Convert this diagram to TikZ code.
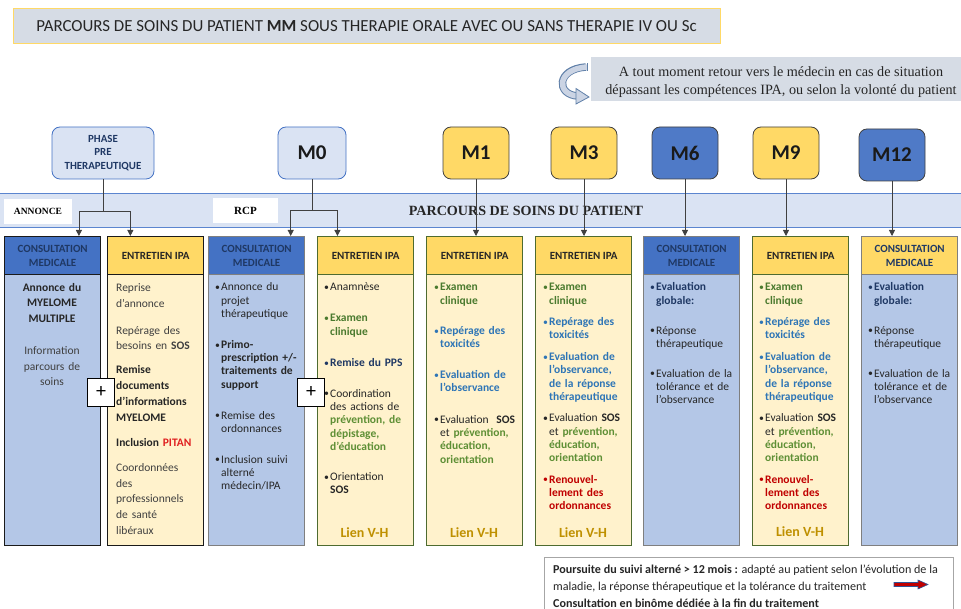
\documentclass[tikz,border=0pt]{standalone}
\usepackage{fontspec}
\usepackage{graphicx}
\setmainfont{Carlito}
\newfontfamily\tnr{Liberation Serif}
\usetikzlibrary{calc,arrows.meta}
\definecolor{titlefill}{HTML}{D6DCE5}
\definecolor{titleborder}{HTML}{FFD966}
\definecolor{bandfill}{HTML}{DAE3F3}
\definecolor{bandline}{HTML}{5B85CF}
\definecolor{stagelight}{HTML}{DAE3F3}
\definecolor{stageblue}{HTML}{4F7AC7}
\definecolor{stageyellow}{HTML}{FFD966}
\definecolor{consbody}{HTML}{B4C7E7}
\definecolor{conshead}{HTML}{4472C4}
\definecolor{ipahead}{HTML}{FFD966}
\definecolor{ipabody}{HTML}{FFF2CC}
\definecolor{colgreen}{HTML}{4E6B30}
\definecolor{colgray}{HTML}{7F7F7F}
\definecolor{colblack}{HTML}{1A1A1A}
\definecolor{connc}{HTML}{404040}
\definecolor{navy}{HTML}{1F3864}
\definecolor{dark}{HTML}{262626}
\definecolor{gray4}{HTML}{404040}
\definecolor{exgreen}{HTML}{4A7A2E}
\definecolor{prevgreen}{HTML}{5E8F35}
\definecolor{tblue}{HTML}{2E75B6}
\definecolor{tred}{HTML}{C00000}
\definecolor{pitan}{HTML}{E02020}
\definecolor{gold}{HTML}{BF9000}
\definecolor{arrowfill}{HTML}{CBD4E4}
\definecolor{arrowline}{HTML}{5F7FA8}
\definecolor{boxgray}{HTML}{A6A6A6}
\definecolor{redarrow}{HTML}{C00000}
\definecolor{redarrowline}{HTML}{2F5597}
\newcommand\bul{\raisebox{0.3pt}{\scalebox{0.85}{•}}}
\newcommand\itm[1]{\par\hangindent=6pt\hangafter=1\noindent\makebox[6pt][l]{\bul}{#1}\par}
\begin{document}
\begin{tikzpicture}[x=1pt,y=-1pt,
  stage/.style={rounded corners=8pt, minimum height=52pt, inner sep=0pt, line width=0.8pt,
    font=\bfseries\fontsize{21}{24}\selectfont, text=colblack},
  colbody/.style={anchor=north west, minimum width=96pt, minimum height=309pt, line width=1.3pt, inner sep=0pt},
  colhead/.style={anchor=north west, minimum width=96pt, minimum height=38pt, line width=1.3pt, inner sep=0pt,
    align=center, font=\bfseries\fontsize{11}{13.8}\selectfont},
  coltext/.style={anchor=north west, inner sep=0pt, text width=95pt, align=left, text=dark},
  tight/.style={font=\fontsize{11.5}{13.3}\selectfont},
  loose/.style={font=\fontsize{11.5}{15.7}\selectfont},
  lien/.style={font=\bfseries\fontsize{14}{16}\selectfont, text=gold, inner sep=0pt},
  conn/.style={draw=connc, line width=0.8pt},
  arr/.style={conn, -{Triangle[length=6pt,width=6pt]}},
  plusbox/.style={draw=black, fill=white, minimum width=27pt, minimum height=28pt, inner sep=0pt,
    line width=0.8pt, font=\fontsize{20}{20}\selectfont},
  tag/.style={fill=white, minimum height=25pt, inner sep=0pt, font=\tnr\bfseries\fontsize{9.5}{11}\selectfont}
]
\useasboundingbox (0,0) rectangle (961,609);

% title
\node[draw=titleborder, fill=titlefill, line width=1pt, minimum width=707pt, minimum height=35pt,
  font=\fontsize{16.9}{19}\selectfont, text=dark] (title) at (366.5,26.5)
  {PARCOURS DE SOINS DU PATIENT \textbf{MM} SOUS THERAPIE ORALE AVEC OU SANS THERAPIE IV OU Sc};

% note
\node[fill=titlefill, minimum width=380pt, minimum height=44pt, inner sep=0pt] (notebox) at (781,79) {};
\node[align=center, font=\tnr\fontsize{14.2}{18}\selectfont, text=dark] (note) at (781,82)
  {A tout moment retour vers le médecin en cas de situation\\dépassant les compétences IPA, ou selon la volonté du patient};
\draw[line width=7.5pt, arrowline] (586,67) .. controls (556,69) and (556,95) .. (578,96);
\draw[line width=5.5pt, arrowfill] (587,67) .. controls (556,69) and (556,95) .. (578,96);
\filldraw[fill=arrowfill, draw=arrowline, line width=0.8pt] (576,88.5) -- (589,97) -- (576,104) -- cycle;
\draw[arrowline, line width=0.8pt] (587,63.3) -- (587,70.7);

% band
\node[fill=bandfill, draw=bandline, line width=1pt, minimum width=970pt, minimum height=34pt] (band) at (480.5,211) {};
\node[font=\tnr\bfseries\fontsize{14.1}{16}\selectfont, text=dark] (bandtext) at (526,211) {PARCOURS DE SOINS DU PATIENT};
\node[tag, minimum width=68pt] (annonce) at (38,211.5) {ANNONCE};
\node[tag, minimum width=65pt, font=\tnr\bfseries\fontsize{11}{12}\selectfont] (rcp) at (245.5,210.5) {RCP};

% stages
\node[stage, fill=stagelight, draw=conshead, minimum width=102pt, align=center,
  font=\bfseries\fontsize{10.9}{13.5}\selectfont, text=navy] (ph) at (103,153) {PHASE\\PRE\\THERAPEUTIQUE};
\node[stage, fill=stagelight, draw=conshead, minimum width=68pt] (m0) at (312,153) {M0};
\node[stage, fill=stageyellow, draw=gray4, minimum width=66pt] (m1) at (476,153) {M1};
\node[stage, fill=stageyellow, draw=gray4, minimum width=66pt] (m3) at (584,153) {M3};
\node[stage, fill=stageblue, draw=gray4, minimum width=66pt] (m6) at (685,153) {M6};
\node[stage, fill=stageyellow, draw=gray4, minimum width=66pt] (m9) at (786,153) {M9};
\node[stage, fill=stageblue, draw=gray4, minimum width=66pt] (m12) at (892,155) {M12};

% columns
\node[colbody, fill=consbody, draw=colblack] (c1) at (4,236) {};
\node[colhead, fill=conshead, draw=colblack, text=navy] (c1h) at (4,236) {CONSULTATION\\MEDICALE};
\node[colbody, fill=ipabody, draw=colblack] (c2) at (107,236) {};
\node[colhead, fill=ipahead, draw=colblack, text=dark] (c2h) at (107,236) {ENTRETIEN IPA};
\node[colbody, fill=consbody, draw=colgray] (c3) at (208,236) {};
\node[colhead, fill=conshead, draw=colgray, text=navy] (c3h) at (208,236) {CONSULTATION\\MEDICALE};
\node[colbody, fill=ipabody, draw=colgreen] (c4) at (317,236) {};
\node[colhead, fill=ipahead, draw=colgreen, text=dark] (c4h) at (317,236) {ENTRETIEN IPA};
\node[colbody, fill=ipabody, draw=colgreen] (c5) at (426,236) {};
\node[colhead, fill=ipahead, draw=colgreen, text=dark] (c5h) at (426,236) {ENTRETIEN IPA};
\node[colbody, fill=ipabody, draw=colgreen] (c6) at (535,236) {};
\node[colhead, fill=ipahead, draw=colgreen, text=dark] (c6h) at (535,236) {ENTRETIEN IPA};
\node[colbody, fill=consbody, draw=colgray] (c7) at (643,236) {};
\node[colhead, fill=conshead, draw=colgray, text=navy] (c7h) at (643,236) {CONSULTATION\\MEDICALE};
\node[colbody, fill=ipabody, draw=colgreen] (c8) at (752,236) {};
\node[colhead, fill=ipahead, draw=colgreen, text=dark] (c8h) at (752,236) {ENTRETIEN IPA};
\node[colbody, fill=consbody, draw=colgray] (c9) at (861,236) {};
\node[colhead, fill=ipahead, draw=colgray, text=navy] (c9h) at (861,236) {CONSULTATION\\MEDICALE};

% connectors
\coordinate (j1) at (103,211);
\coordinate (j2) at (312,210);
\draw[conn] (ph.south) -- (j1);
\draw[arr] (j1) -| ($(c1h.north west)!0.77!(c1h.north east)$);
\draw[arr] (j1) -| ($(c2h.north west)!0.24!(c2h.north east)$);
\draw[conn] (m0.south) -- (j2);
\draw[arr] (j2) -| ($(c3h.north west)!0.85!(c3h.north east)$);
\draw[arr] (j2) -| ($(c4h.north west)!0.21!(c4h.north east)$);
\draw[arr] (m1.south) -- (m1.south |- c5h.north);
\draw[arr] (m3.south) -- (m3.south |- c6h.north);
\draw[arr] (m6.south) -- (m6.south |- c7h.north);
\draw[arr] (m9.south) -- (m9.south |- c8h.north);
\draw[arr] (m12.south) -- (m12.south |- c9h.north);

% column texts
\node[coltext, loose, anchor=north, align=center, text width=92pt] (t1) at (52,283)
  {{\bfseries\color{dark}Annonce du\\MYELOME\\MULTIPLE\par}\vspace{16pt}{\color{gray4}Information\\parcours de\\soins\par}};
\node[coltext, loose] (t2) at (116,283.5)
  {\color{gray4}Reprise\newline d’annonce\par\vspace{11pt}
   Repérage des\newline besoins en \textbf{SOS}\par\vspace{8.5pt}
   {\bfseries\color{dark}Remise\newline documents\newline d’informations\newline MYELOME\par}\vspace{10pt}
   {\bfseries\color{dark}Inclusion \textcolor{pitan}{PITAN}\par}\vspace{9pt}
   Coordonnées\newline des\newline professionnels\newline de santé\newline libéraux\par};
\node[coltext, tight] (t3) at (215,277.5)
  {\itm{Annonce du\newline projet\newline thérapeutique}\vspace{17.5pt}
   \itm{\bfseries Primo-\newline prescription +/-\newline traitements de\newline support}\vspace{17.5pt}
   \itm{Remise des\newline ordonnances}\vspace{17.5pt}
   \itm{Inclusion suivi\newline alterné\newline médecin/IPA}};
\node[coltext, tight] (t4) at (324,277.5)
  {\itm{Anamnèse}\vspace{17.5pt}
   {\color{exgreen}\itm{\bfseries Examen\newline clinique}}\vspace{18pt}
   {\color{navy}\itm{\bfseries Remise du PPS}}\vspace{17.5pt}
   \itm{Coordination\newline des actions de\newline \textcolor{prevgreen}{\bfseries prévention, de\newline dépistage,\newline d’éducation}}\vspace{17pt}
   \itm{Orientation\newline \textbf{SOS}}};
\node[coltext, tight] (t5) at (434,277.5)
  {{\color{exgreen}\itm{\bfseries Examen\newline clinique}}\vspace{17pt}
   {\color{tblue}\itm{\bfseries Repérage des\newline toxicités}}\vspace{17.5pt}
   {\color{tblue}\itm{\bfseries Evaluation de\newline l'observance}}\vspace{18pt}
   \itm{Evaluation\ \ \textbf{SOS}\newline et \textcolor{prevgreen}{\bfseries prévention,\newline éducation,\newline orientation}}};
\node[coltext, tight] (t6) at (543,277.5)
  {{\color{exgreen}\itm{\bfseries Examen\newline clinique}}\vspace{8pt}
   {\color{tblue}\itm{\bfseries Repérage des\newline toxicités}}\vspace{8.5pt}
   {\color{tblue}\itm{\bfseries Evaluation de\newline l'observance,\newline de la réponse\newline thérapeutique}}\vspace{8pt}
   \itm{Evaluation \textbf{SOS}\newline et \textcolor{prevgreen}{\bfseries prévention,\newline éducation,\newline orientation}}\vspace{8pt}
   {\color{tred}\itm{\bfseries Renouvel-\newline lement des\newline ordonnances}}};
\node[coltext, tight] (t7) at (650,277.5)
  {{\color{navy}\itm{\bfseries Evaluation\newline globale:}}\vspace{16.5pt}
   \itm{Réponse\newline thérapeutique}\vspace{16.5pt}
   \itm{Evaluation de la\newline tolérance et de\newline l'observance}};
\node[coltext, tight] (t8) at (759,277.5)
  {{\color{exgreen}\itm{\bfseries Examen\newline clinique}}\vspace{8pt}
   {\color{tblue}\itm{\bfseries Repérage des\newline toxicités}}\vspace{8.5pt}
   {\color{tblue}\itm{\bfseries Evaluation de\newline l'observance,\newline de la réponse\newline thérapeutique}}\vspace{8pt}
   \itm{Evaluation \textbf{SOS}\newline et \textcolor{prevgreen}{\bfseries prévention,\newline éducation,\newline orientation}}\vspace{8pt}
   {\color{tred}\itm{\bfseries Renouvel-\newline lement des\newline ordonnances}}};
\node[coltext, tight] (t9) at (868,277.5)
  {{\color{navy}\itm{\bfseries Evaluation\newline globale:}}\vspace{16.5pt}
   \itm{Réponse\newline thérapeutique}\vspace{16.5pt}
   \itm{Evaluation de la\newline tolérance et de\newline l'observance}};

% Lien V-H
\node[lien] (l4) at (364.5,533) {Lien V-H};
\node[lien] (l5) at (474,533) {Lien V-H};
\node[lien] (l6) at (583,533) {Lien V-H};
\node[lien] (l8) at (800,532) {Lien V-H};

% plus boxes
\node[plusbox] (p1) at (101,392) {+};
\node[plusbox] (p2) at (311,392) {+};

% bottom note
\node[draw=boxgray, fill=white, line width=0.8pt, anchor=north west, minimum width=409pt, minimum height=60pt] (bottom) at (544,557) {};
\node[anchor=north west, inner sep=0pt, align=left, font=\fontsize{12.1}{17}\selectfont, text=dark] (bottomtext) at (553,564.5)
  {\textbf{Poursuite du suivi alterné > 12 mois :} adapté au patient selon l’évolution de la\\
   maladie, la réponse thérapeutique et la tolérance du traitement\\
   \textbf{Consultation en binôme dédiée à la fin du traitement}};
\filldraw[fill=redarrow, draw=redarrowline, line width=0.6pt]
  (894,582.5) -- (918,582.5) -- (918,580) -- (928,584.5) -- (918,589) -- (918,586.5) -- (894,586.5) -- cycle;
\end{tikzpicture}
\end{document}
